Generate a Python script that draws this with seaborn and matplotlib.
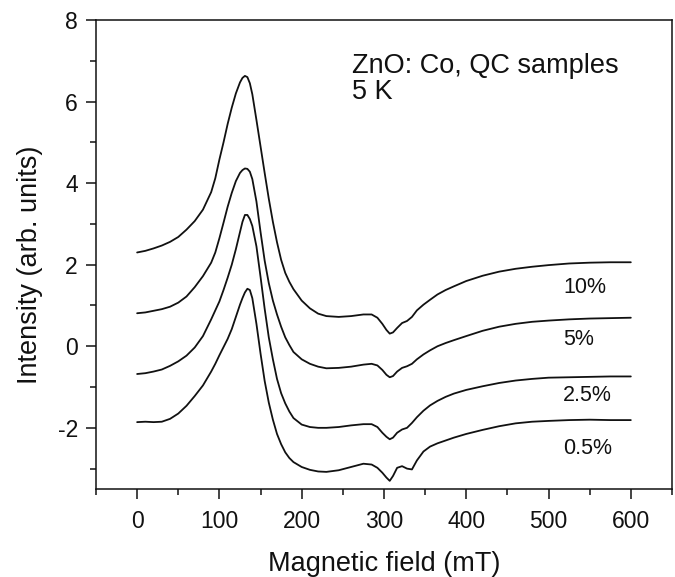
import matplotlib
matplotlib.use("Agg")
import matplotlib.pyplot as plt
from matplotlib.ticker import MultipleLocator
import seaborn as sns
import pandas as pd

# Magnetic field grid (mT)
field = [0, 10, 20, 30, 40, 50, 60, 70, 80, 90,
         95, 100, 105, 110, 115, 120, 125, 128, 131, 134, 137, 140,
         145, 150, 155, 160, 165, 170, 175, 180, 185, 190,
         200, 210, 220, 230, 245, 260, 275, 285,
         292, 298, 303, 307, 311, 316, 322, 328, 334, 340,
         348, 356, 365, 375, 385, 400,
         420, 440, 460, 480, 500, 525, 550, 575, 600]

# Intensities (arb. units) for each Co concentration
co_10 = [2.30, 2.34, 2.40, 2.47, 2.56, 2.68, 2.86, 3.07, 3.35, 3.78,
         4.12, 4.58, 5.00, 5.45, 5.85, 6.20, 6.47, 6.58, 6.63, 6.60, 6.45, 6.18,
         5.55, 4.90, 4.25, 3.62, 3.05, 2.55, 2.12, 1.80, 1.58, 1.40,
         1.12, 0.93, 0.80, 0.74, 0.72, 0.74, 0.78, 0.78,
         0.70, 0.55, 0.40, 0.31, 0.34, 0.45, 0.57, 0.62, 0.72, 0.88,
         1.02, 1.14, 1.27, 1.38, 1.47, 1.60,
         1.73, 1.83, 1.90, 1.95, 1.99, 2.03, 2.05, 2.06, 2.06]
co_5 = [0.81, 0.83, 0.87, 0.91, 0.97, 1.07, 1.22, 1.45, 1.72, 2.05,
        2.30, 2.65, 3.03, 3.42, 3.76, 4.05, 4.25, 4.32, 4.36, 4.35, 4.28, 4.10,
        3.55, 2.80, 2.10, 1.55, 1.12, 0.78, 0.48, 0.22, 0.03, -0.14,
        -0.32, -0.43, -0.50, -0.54, -0.53, -0.50, -0.45, -0.43,
        -0.47, -0.58, -0.70, -0.76, -0.73, -0.62, -0.53, -0.49, -0.43, -0.32,
        -0.20, -0.10, 0.00, 0.08, 0.15, 0.25,
        0.38, 0.48, 0.55, 0.60, 0.63, 0.66, 0.68, 0.69, 0.70]
co_2_5 = [-0.68, -0.66, -0.62, -0.57, -0.48, -0.37, -0.23, -0.03, 0.25, 0.66,
          0.88, 1.10, 1.38, 1.68, 2.00, 2.38, 2.80, 3.05, 3.22, 3.22, 3.12, 2.95,
          2.45, 1.70, 0.92, 0.22, -0.32, -0.80, -1.15, -1.40, -1.60, -1.76,
          -1.92, -1.98, -2.00, -2.00, -1.98, -1.94, -1.91, -1.91,
          -1.98, -2.12, -2.22, -2.28, -2.24, -2.12, -2.04, -2.00, -1.88, -1.74,
          -1.58, -1.45, -1.34, -1.24, -1.16, -1.07,
          -0.98, -0.90, -0.84, -0.80, -0.77, -0.76, -0.75, -0.74, -0.74]
co_0_5 = [-1.86, -1.85, -1.86, -1.85, -1.78, -1.65, -1.46, -1.22, -0.96, -0.62,
          -0.43, -0.22, -0.02, 0.18, 0.42, 0.72, 1.02, 1.18, 1.32, 1.41, 1.38, 1.18,
          0.55, -0.18, -0.85, -1.38, -1.80, -2.15, -2.40, -2.60, -2.74, -2.84,
          -2.96, -3.03, -3.07, -3.08, -3.04, -2.96, -2.88, -2.90,
          -2.98, -3.10, -3.22, -3.30, -3.18, -2.98, -2.94, -3.00, -3.02, -2.80,
          -2.58, -2.46, -2.38, -2.31, -2.24, -2.15,
          -2.05, -1.96, -1.89, -1.85, -1.83, -1.81, -1.80, -1.81, -1.81]

sample_names = ["10%", "5%", "2.5%", "0.5%"]
series_values = [co_10, co_5, co_2_5, co_0_5]
label_y = [1.30, 0.02, -1.34, -2.63]

x_ticks = [0, 100, 200, 300, 400, 500, 600]
y_ticks = [-2, 0, 2, 4, 6, 8]

sns.set_style("ticks")
plt.rcParams["font.family"] = ["Liberation Sans", "DejaVu Sans"]
plt.rcParams["axes.unicode_minus"] = False

fig = plt.figure(figsize=(6.75, 5.77), dpi=100)
ax = fig.add_axes([0.1422, 0.1525, 0.8533, 0.8128])

frames = []
for name, vals in zip(sample_names, series_values):
    frames.append(pd.DataFrame({"field": field, "intensity": vals, "sample": name}))
df = pd.concat(frames, ignore_index=True)

for name, ly in zip(sample_names, label_y):
    sub = df[df["sample"] == name]
    sns.lineplot(data=sub, x="field", y="intensity", color="#111111",
                 linewidth=1.3, sort=False, estimator=None, ax=ax)
    ax.text(518, ly, name, fontsize=15.5, color="#111111",
            ha="left", va="baseline")

ax.text(261, 6.71, "ZnO: Co, QC samples", fontsize=19.5, color="#111111",
        ha="left", va="baseline")
ax.text(261, 6.07, "5 K", fontsize=19.5, color="#111111",
        ha="left", va="baseline")

ax.set_xlim(-50, 650)
ax.set_ylim(-3.5, 8)
ax.set_xticks(x_ticks)
ax.set_yticks(y_ticks)
ax.xaxis.set_minor_locator(MultipleLocator(50))
ax.yaxis.set_minor_locator(MultipleLocator(1))
ax.tick_params(which="major", direction="out", length=7, width=1.1,
               labelsize=16.5, pad=8, colors="#111111",
               top=False, right=False)
ax.tick_params(which="minor", direction="out", length=4, width=1.1,
               top=False, right=False, colors="#111111")
ax.tick_params(axis="y", which="major", pad=6)
for s in ax.spines.values():
    s.set_visible(True)
    s.set_linewidth(1.1)
    s.set_color("#111111")

ax.set_xlabel("Magnetic field (mT)", fontsize=19.5, color="#111111", labelpad=13)
ax.set_ylabel("Intensity (arb. units)", fontsize=19.5, color="#111111")
ax.yaxis.set_label_coords(-0.092, 0.478)
if ax.get_legend() is not None:
    ax.get_legend().remove()

fig.savefig("out.png", dpi=100)
